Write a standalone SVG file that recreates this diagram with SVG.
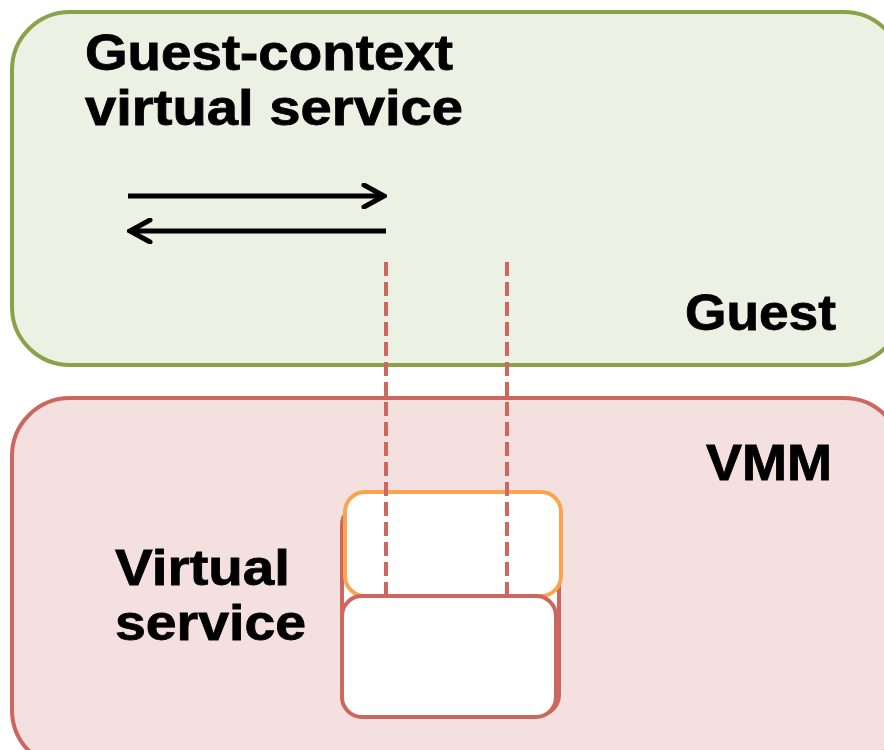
<svg xmlns="http://www.w3.org/2000/svg" width="884" height="750" viewBox="0 0 884 750">
  <defs>
    <style>
      .lbl { font-family: "Liberation Sans", Arial, sans-serif; font-weight: bold; font-size: 50px; fill: #000; stroke: #000; stroke-width: 0.8; }
      .dash { stroke: #d0665e; stroke-width: 4; stroke-dasharray: 14 6; fill: none; }
      .arrow { stroke: #000; stroke-width: 5; fill: none; stroke-linecap: butt; }
    </style>
    <marker id="chev" viewBox="0 0 26 26" refX="23" refY="13" markerWidth="26" markerHeight="26" markerUnits="userSpaceOnUse" orient="auto-start-reverse">
      <path d="M3,2 L23,13 L3,24" fill="none" stroke="#000" stroke-width="5" stroke-linecap="round" stroke-linejoin="miter"/>
    </marker>
  </defs>
  <rect width="884" height="750" fill="#ffffff"/>

  <g id="guest">
    <rect x="12" y="12" width="890" height="353" rx="58" ry="58" fill="#edf1e3" stroke="#8aa24a" stroke-width="4"/>
    <text class="lbl" x="85" y="70" textLength="368" lengthAdjust="spacingAndGlyphs">Guest-context</text>
    <text class="lbl" x="85" y="125" textLength="378" lengthAdjust="spacingAndGlyphs">virtual service</text>
    <text class="lbl" x="685" y="330" textLength="151" lengthAdjust="spacingAndGlyphs">Guest</text>
  </g>

  <g id="vmm">
    <rect x="12" y="398" width="890" height="370" rx="58" ry="58" fill="#f4e1df" stroke="#cd665e" stroke-width="4"/>
    <text class="lbl" x="706" y="480" textLength="126" lengthAdjust="spacingAndGlyphs">VMM</text>
    <text class="lbl" x="115" y="585" textLength="175" lengthAdjust="spacingAndGlyphs">Virtual</text>
    <text class="lbl" x="115" y="640" textLength="191" lengthAdjust="spacingAndGlyphs">service</text>
  </g>

  <g id="service-stack">
    <rect x="342" y="505" width="217" height="210" rx="20" ry="20" fill="#ffffff" stroke="#cd665e" stroke-width="4"/>
    <rect x="345" y="492" width="216" height="104" rx="20" ry="20" fill="#ffffff" stroke="#f9a54f" stroke-width="4"/>
  </g>

  <g id="connectors">
    <line class="arrow" x1="128" y1="196" x2="384" y2="196" marker-end="url(#chev)"/>
    <line class="arrow" x1="386" y1="231" x2="130" y2="231" marker-end="url(#chev)"/>
    <line class="dash" x1="386" y1="262" x2="386" y2="596"/>
    <line class="dash" x1="507" y1="262" x2="507" y2="596"/>
  </g>

  <g id="service-base">
    <rect x="342" y="596" width="214" height="121" rx="20" ry="20" fill="#ffffff" stroke="#cd665e" stroke-width="4"/>
  </g>
</svg>
